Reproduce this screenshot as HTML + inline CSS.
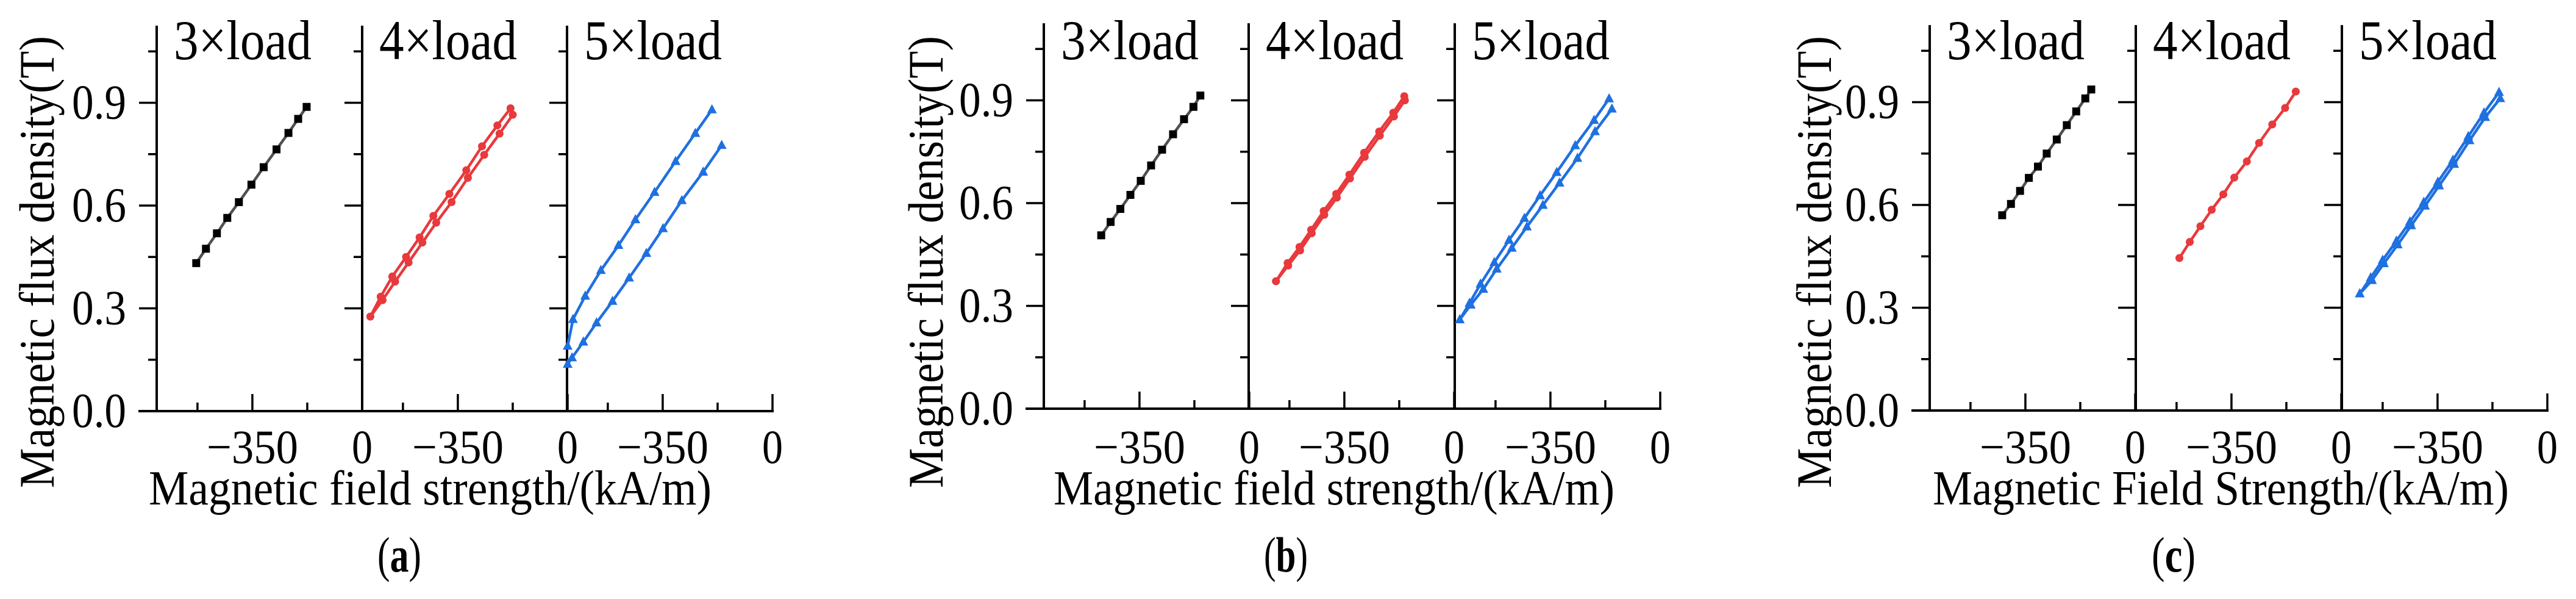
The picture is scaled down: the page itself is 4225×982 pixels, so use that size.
<!DOCTYPE html>
<html><head><meta charset="utf-8"><style>
html,body{margin:0;padding:0;background:#fff;}
svg{display:block;}
svg text{font-family:"Liberation Serif","Times New Roman",serif;}
</style></head><body>
<svg id="fig" width="4225" height="982" viewBox="0 0 4225 982" xmlns="http://www.w3.org/2000/svg" font-family="Liberation Serif, serif"></svg>
<script>
// ---- data (H in kA/m, B in T) ----
const loadLabels = ["3×load", "4×load", "5×load"];
const xTickValues = [-525, -350, -175, 0];
const xTickLabels = ["−350", "0"];
const yTickValues = [0, 0.15, 0.3, 0.45, 0.6, 0.75, 0.9, 1.05];
const yTickLabels = ["0.0", "0.3", "0.6", "0.9"];

// panel a
const aBlackH = [-529,-498,-463,-430,-393,-353,-314,-273,-235,-204,-177];
const aBlackB = [0.432,0.474,0.519,0.564,0.610,0.661,0.712,0.764,0.812,0.853,0.888];
const aRedUpH = [-629,-596,-559,-515,-472,-428,-377,-323,-273,-224,-182];
const aRedUpB = [0.276,0.334,0.393,0.450,0.507,0.570,0.634,0.703,0.773,0.834,0.884];
const aRedLoH = [-629,-590,-550,-507,-463,-419,-370,-318,-266,-217,-175];
const aRedLoB = [0.276,0.324,0.378,0.434,0.492,0.550,0.610,0.681,0.748,0.810,0.865];
const aBlueUpH = [-653,-636,-597,-547,-491,-437,-376,-309,-246,-193];
const aBlueUpB = [0.190,0.268,0.336,0.411,0.484,0.559,0.639,0.729,0.811,0.880];
const aBlueLoH = [-653,-639,-603,-561,-510,-457,-402,-349,-289,-221,-162];
const aBlueLoB = [0.137,0.156,0.202,0.258,0.321,0.389,0.461,0.533,0.615,0.698,0.776];
// panel b
const bBlackH = [-472,-442,-411,-379,-346,-313,-278,-243,-208,-178,-156];
const bBlackB = [0.506,0.545,0.583,0.624,0.665,0.710,0.756,0.801,0.845,0.881,0.914];
const bRedUpH = [-568,-531,-493,-456,-416,-376,-334,-287,-239,-194,-159];
const bRedUpB = [0.372,0.425,0.472,0.522,0.577,0.627,0.683,0.747,0.809,0.864,0.912];
const bRedLoH = [-568,-529,-491,-454,-414,-374,-332,-285,-237,-192,-157];
const bRedLoB = [0.372,0.418,0.462,0.512,0.566,0.616,0.672,0.735,0.797,0.853,0.900];
const bBlueUpH = [-639,-608,-573,-529,-482,-433,-383,-330,-271,-211,-163];
const bBlueUpB = [0.260,0.308,0.364,0.427,0.492,0.556,0.622,0.690,0.768,0.842,0.905];
const bBlueLoH = [-639,-604,-564,-521,-473,-425,-374,-321,-264,-208,-154];
const bBlueLoB = [0.260,0.303,0.349,0.408,0.469,0.531,0.594,0.659,0.731,0.809,0.875];
// panel c
const cBlackH = [-424,-396,-367,-339,-310,-282,-250,-218,-188,-159,-140];
const cBlackB = [0.570,0.603,0.641,0.679,0.712,0.750,0.791,0.833,0.873,0.911,0.937];
const cRedUpH = [-516,-483,-449,-413,-376,-341,-301,-262,-220,-179,-145];
const cRedUpB = [0.445,0.492,0.538,0.586,0.631,0.680,0.727,0.781,0.835,0.883,0.931];
const cBlueUpH = [-598,-563,-525,-481,-438,-394,-349,-301,-252,-202,-154];
const cBlueUpB = [0.341,0.388,0.439,0.495,0.551,0.608,0.667,0.731,0.800,0.869,0.929];
const cBlueLoH = [-598,-559,-521,-477,-434,-390,-345,-297,-248,-198,-150];
const cBlueLoB = [0.341,0.380,0.429,0.484,0.540,0.597,0.656,0.719,0.788,0.856,0.911];

const NS = "http://www.w3.org/2000/svg";
const svg = document.getElementById("fig");
const X_MIN = -655, X_MAX = 0, SUBW = 337, Y_PER = 168.5 / 0.3, Y_TOP = 1.125;
const FONT = "Liberation Serif, Times New Roman, serif";

function mk(tag, attrs, parent) {
  const e = document.createElementNS(NS, tag);
  for (const k in attrs) e.setAttribute(k, attrs[k]);
  if (tag === "text") e.setAttribute("font-family", FONT);
  (parent || svg).appendChild(e);
  return e;
}

const panels = [
  {id: "a", axes: [257, 594, 930], y0: 674, ytx: 68, xt: [244, 923], lab: 655, title: "Magnetic field strength/(kA/m)",
   series: [[[aBlackH, aBlackB]], [[aRedUpH, aRedUpB], [aRedLoH, aRedLoB]], [[aBlueUpH, aBlueUpB], [aBlueLoH, aBlueLoB]]]},
  {id: "b", axes: [1712, 2048, 2386], y0: 670, ytx: 1526, xt: [1728, 920], lab: 2109, title: "Magnetic field strength/(kA/m)",
   series: [[[bBlackH, bBlackB]], [[bRedUpH, bRedUpB], [bRedLoH, bRedLoB]], [[bBlueUpH, bBlueUpB], [bBlueLoH, bBlueLoB]]]},
  {id: "c", axes: [3165, 3503, 3841], y0: 673, ytx: 2983, xt: [3170, 945], lab: 3565, title: "Magnetic Field Strength/(kA/m)",
   series: [[[cBlackH, cBlackB]], [[cRedUpH, cRedUpB]], [[cBlueUpH, cBlueUpB], [cBlueLoH, cBlueLoB]]]}
];
const colors = [["#505050", "#000"], ["#e8393c", "#e8393c"], ["#1f70e0", "#1f70e0"]];
const markers = ["square", "circle", "triangle"];

panels.forEach(p => {
  const g = mk("g", {});
  
  
  const y = v => p.y0 - v * Y_PER;
  const yTopPx = y(Y_TOP);
  p.axes.forEach((ax, si) => {
    const x = v => ax + (v - X_MIN) / (X_MAX - X_MIN) * SUBW;
    const sg = mk("g", {}, g);
    
    
    const yl = mk("line", {x1: ax, y1: yTopPx, x2: ax, y2: p.y0 + 2, stroke: "#000", "stroke-width": 4}, sg);
    
    
    const xl = mk("line", {x1: ax - 30, y1: p.y0, x2: x(0) + 2, y2: p.y0, stroke: "#000", "stroke-width": 4}, sg);
    
    
    yTickValues.forEach((v, i) => {
      const major = i % 2 === 0;
      const t = mk("line", {x1: ax - (major ? 29 : 14), y1: y(v), x2: ax, y2: y(v), stroke: "#000", "stroke-width": 3.5}, sg);
      
      
    });
    xTickValues.forEach((v, i) => {
      const major = i % 2 === 1;
      const t = mk("line", {x1: x(v), y1: p.y0, x2: x(v), y2: p.y0 - (major ? 28 : 14), stroke: "#000", "stroke-width": 3.5}, sg);
      
      
    });
    [[xTickValues[1], xTickLabels[0], 150], [xTickValues[3], xTickLabels[1], 34]].forEach(([v, s, w]) => {
      const t = mk("text", {x: x(v) - w / 2, y: 759, "font-size": 78, textLength: w, lengthAdjust: "spacingAndGlyphs"}, sg);
      
      
      t.textContent = s;
    });
    const tt = mk("text", {x: ax + 28, y: 97, "font-size": 92, textLength: 226, lengthAdjust: "spacingAndGlyphs"}, sg);
    
    
    tt.textContent = loadLabels[si];
    const [lc, mc] = colors[si];
    p.series[si].forEach((pair, bi) => {
      const [H, B] = pair;
      const pts = H.map((h, k) => x(h).toFixed(1) + "," + y(B[k]).toFixed(1)).join(" ");
      const pl = mk("polyline", {points: pts, fill: "none", stroke: lc, "stroke-width": 4.5, "stroke-linejoin": "round"}, sg);
      
      
      H.forEach((h, k) => {
        const cx = x(h), cy = y(B[k]);
        let m;
        if (markers[si] === "square") m = mk("rect", {x: cx - 6.5, y: cy - 6.5, width: 13, height: 13, fill: mc}, sg);
        else if (markers[si] === "circle") m = mk("circle", {cx: cx, cy: cy, r: 6.5, fill: mc}, sg);
        else m = mk("polygon", {points: `${cx},${cy - 9} ${cx - 8},${cy + 6} ${cx + 8},${cy + 6}`, fill: mc}, sg);
        
        
      });
    });
  });
  yTickLabels.forEach((s, i) => {
    const t = mk("text", {x: p.axes[0] - 50 - 89, y: y(i * 0.3) + 26, "font-size": 80, textLength: 89, lengthAdjust: "spacingAndGlyphs"}, g);
    
    
    t.textContent = s;
  });
  const yt = mk("text", {x: -370, y: 0, "font-size": 82, textLength: 741, lengthAdjust: "spacingAndGlyphs",
    transform: `translate(${p.ytx + 20},430) rotate(-90)`}, g);
  
  
  yt.textContent = "Magnetic flux density(T)";
  const xt = mk("text", {x: p.xt[0], y: 827, "font-size": 80, textLength: p.xt[1], lengthAdjust: "spacingAndGlyphs"}, g);
  
  
  xt.textContent = p.title;
  const lb = mk("text", {x: p.lab - 36, y: 937, "font-size": 82, textLength: 72, lengthAdjust: "spacingAndGlyphs"}, g);
  
  
  lb.innerHTML = '(<tspan font-weight="bold">' + p.id + '</tspan>)';
});
</script>
</body></html>
